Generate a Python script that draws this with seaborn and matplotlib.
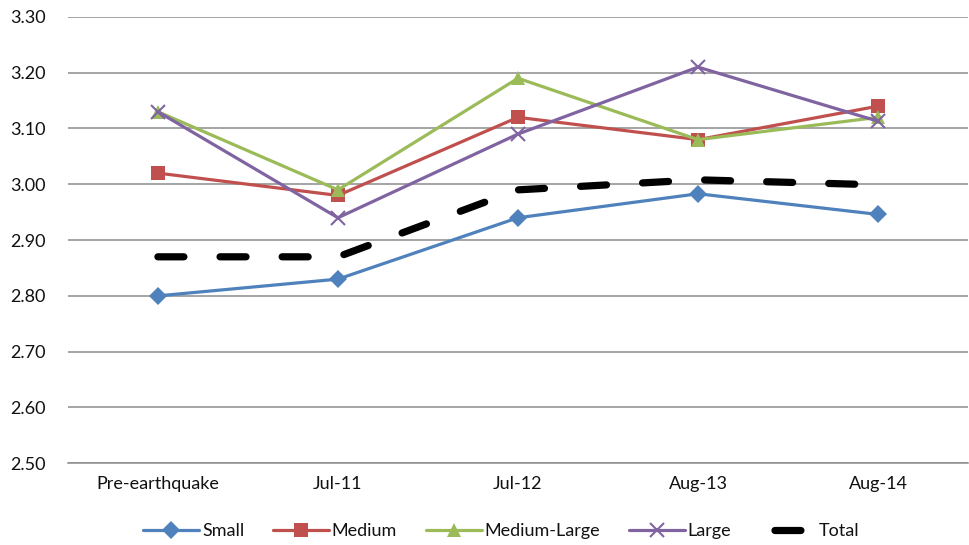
import matplotlib
matplotlib.use("Agg")
import matplotlib.pyplot as plt
import seaborn as sns
import pandas as pd
from matplotlib.lines import Line2D

periods = ["Pre-earthquake", "Jul-11", "Jul-12", "Aug-13", "Aug-14"]
small = [2.80, 2.83, 2.94, 2.983, 2.946]
medium = [3.02, 2.98, 3.12, 3.08, 3.14]
medium_large = [3.13, 2.99, 3.19, 3.08, 3.12]
large = [3.13, 2.94, 3.09, 3.21, 3.113]
total = [2.87, 2.87, 2.99, 3.008, 2.999]
y_ticks = [2.50, 2.60, 2.70, 2.80, 2.90, 3.00, 3.10, 3.20, 3.30]

series = {
    "Small": small,
    "Medium": medium,
    "Medium-Large": medium_large,
    "Large": large,
    "Total": total,
}
styles = {
    "Small": dict(color="#4F81BD", marker="D", ms=9, lw=2.3, ls="-"),
    "Medium": dict(color="#C0504D", marker="s", ms=10, lw=2.3, ls="-"),
    "Medium-Large": dict(color="#9BBB59", marker="^", ms=10.5, lw=2.3, ls="-"),
    "Large": dict(color="#8064A2", marker="x", ms=10, lw=2.3, ls="-"),
    "Total": dict(color="black", marker=None, ms=0, lw=5.2, ls=(0, (3.6, 5.0))),
}

df = pd.DataFrame(
    [(name, i, v) for name, vals in series.items() for i, v in enumerate(vals)],
    columns=["group", "pos", "value"],
)

sns.set_theme(style="white")
plt.rcParams["font.family"] = ["Lato", "DejaVu Sans"]
FS = 13
TXT = "#111111"

fig = plt.figure(figsize=(9.70, 5.45), dpi=100)
ax = fig.add_axes([0.070, 0.150, 0.928, 0.819])

for name in series:
    st = styles[name]
    sub = df[df["group"] == name]
    sns.lineplot(
        data=sub, x="pos", y="value", ax=ax, color=st["color"],
        linewidth=st["lw"], linestyle=st["ls"], marker=st["marker"],
        markersize=st["ms"], markeredgewidth=1.5 if st["marker"] == "x" else 0,
        markeredgecolor=st["color"], legend=False,
        solid_capstyle="round", dash_capstyle="round",
    )

ax.set_xlim(-0.5, 4.5)
ax.set_ylim(2.50, 3.30)
ax.set_yticks(y_ticks)
ax.set_yticklabels([f"{t:.2f}" for t in y_ticks], fontsize=FS, color=TXT)
ax.set_xticks(range(len(periods)))
ax.set_xticklabels(periods, fontsize=FS, color=TXT)
ax.tick_params(axis="x", length=0, pad=9)
ax.tick_params(axis="y", length=0, pad=16)
ax.set_xlabel("")
ax.set_ylabel("")
ax.yaxis.grid(True, color="#8c8c8c", linewidth=1.1)
ax.xaxis.grid(False)
for side in ["top", "right", "left"]:
    ax.spines[side].set_visible(False)
ax.spines["bottom"].set_color("#8c8c8c")
ax.spines["bottom"].set_linewidth(1.1)

handles = []
for name in series:
    st = styles[name]
    if name == "Total":
        # single centred dash in the legend key
        h = Line2D([0], [0], color="black", lw=5.2,
                   linestyle=(21.6, (3.6, 20.0)), dash_capstyle="round")
    else:
        h = Line2D([0], [0], color=st["color"], lw=2.3, marker=st["marker"],
                   markersize=st["ms"], markeredgewidth=1.5 if st["marker"] == "x" else 0,
                   markeredgecolor=st["color"])
    handles.append(h)

leg = fig.legend(
    handles, list(series.keys()), loc="center", bbox_to_anchor=(0.517, 0.026),
    ncol=5, frameon=False, fontsize=FS, handlelength=3.1, handletextpad=0.15,
    columnspacing=1.6,
)
for t in leg.get_texts():
    t.set_color(TXT)

fig.savefig("out.png", dpi=100, facecolor="white")
